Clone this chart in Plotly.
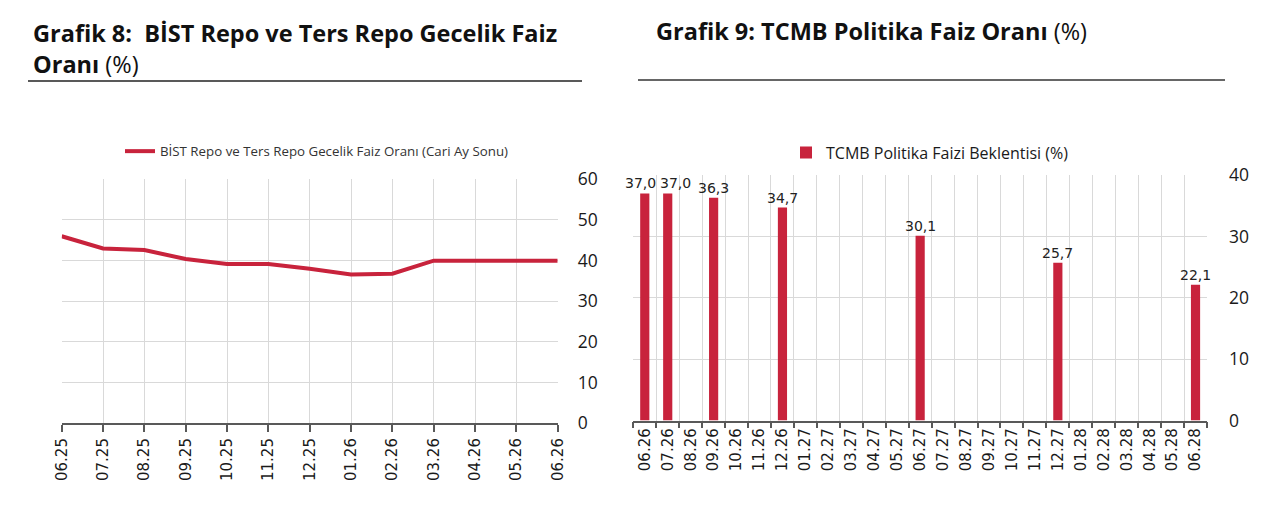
import plotly.graph_objects as go

# ---- Data ----
left_months = ["06.25", "07.25", "08.25", "09.25", "10.25", "11.25", "12.25",
               "01.26", "02.26", "03.26", "04.26", "05.26", "06.26"]
left_rates = [46.0, 43.0, 42.6, 40.4, 39.2, 39.2, 38.0, 36.6, 36.8, 40.0, 40.0, 40.0, 40.0]

right_months = ["06.26", "07.26", "08.26", "09.26", "10.26", "11.26", "12.26",
                "01.27", "02.27", "03.27", "04.27", "05.27", "06.27", "07.27",
                "08.27", "09.27", "10.27", "11.27", "12.27", "01.28", "02.28",
                "03.28", "04.28", "05.28", "06.28"]
right_rates = [37.0, 37.0, None, 36.3, None, None, 34.7, None, None, None, None, None,
               30.1, None, None, None, None, None, 25.7, None, None, None, None, None, 22.1]

left_ticks = [0, 10, 20, 30, 40, 50, 60]
right_ticks = [0, 10, 20, 30, 40]

RED = "#C8233C"
GRID = "#D9D9D9"
AXIS = "#595959"
W, H = 1280, 512


def px_x(p):
    return p / W


def px_y(p):
    return 1 - p / H


fig = go.Figure()

fig.add_trace(go.Scatter(
    x=left_months, y=left_rates, mode="lines",
    line=dict(color=RED, width=4),
    name="BİST Repo ve Ters Repo Gecelik Faiz Oranı (Cari Ay Sonu)",
    xaxis="x", yaxis="y", legend="legend", showlegend=True,
))

fig.add_trace(go.Bar(
    x=right_months, y=right_rates, marker=dict(color=RED, line=dict(width=0)),
    name="TCMB Politika Faizi Beklentisi (%)",
    xaxis="x2", yaxis="y2", legend="legend2", showlegend=True,
))

tick_font_x = dict(family="DejaVu Sans", size=15, color="#1a1a1a")
tick_font_y = dict(family="Open Sans", size=17.5, color="#1a1a1a")
title_font = dict(family="Open Sans", size=23.5, color="#111111")

# data labels above the bars (placed at the bar's category index and value,
# nudged apart where neighbouring labels would collide, as the original does)
label_annotations = []
prev_idx = None
for i, v in enumerate(right_rates):
    if v is None:
        continue
    shift = 0
    nxt = next((j for j in range(i + 1, len(right_rates)) if right_rates[j] is not None), None)
    if nxt is not None and nxt - i == 1:
        shift = -4
    if prev_idx is not None and i - prev_idx == 1:
        shift = 8
    label_annotations.append(dict(
        text=f"{v:.1f}".replace(".", ","), x=i, y=v, xref="x2", yref="y2",
        xanchor="center", yanchor="bottom", showarrow=False, xshift=shift, yshift=0,
        font=dict(family="DejaVu Sans", size=14, color="#222222"),
    ))
    prev_idx = i

fig.update_layout(
    width=W, height=H,
    margin=dict(l=0, r=0, t=0, b=0, autoexpand=False),
    paper_bgcolor="white", plot_bgcolor="white",
    bargap=0.6,
    xaxis=dict(
        domain=[px_x(61.7), px_x(557.7)], anchor="y", type="category",
        categoryorder="array", categoryarray=left_months,
        range=[0, len(left_months) - 1],
        showgrid=True, gridcolor=GRID, gridwidth=1,
        showline=True, linecolor=AXIS, linewidth=1.5,
        ticks="outside", ticklen=7, tickcolor=AXIS, tickwidth=1.5,
        tickangle=-90, tickfont=tick_font_x, zeroline=False,
    ),
    yaxis=dict(
        domain=[px_y(423.3), px_y(179.3)], anchor="x", side="right",
        range=[0, 60], tickvals=left_ticks,
        showgrid=True, gridcolor=GRID, gridwidth=1,
        showline=False, zeroline=False, ticks="",
        ticklabelstandoff=19, tickfont=tick_font_y,
    ),
    xaxis2=dict(
        domain=[px_x(633.3), px_x(1207)], anchor="y2", type="category",
        categoryorder="array", categoryarray=right_months,
        range=[-0.5, len(right_months) - 0.5],
        tickson="boundaries",
        showgrid=True, gridcolor=GRID, gridwidth=1,
        showline=True, linecolor=AXIS, linewidth=1.5,
        ticks="outside", ticklen=6, tickcolor=AXIS, tickwidth=1.5,
        tickangle=-90, tickfont=tick_font_x, zeroline=False,
    ),
    yaxis2=dict(
        domain=[px_y(420.5), px_y(175)], anchor="x2", side="right",
        range=[0, 40], tickvals=right_ticks,
        showgrid=True, gridcolor=GRID, gridwidth=1,
        showline=False, zeroline=False, ticks="",
        ticklabelstandoff=21, tickfont=tick_font_y,
    ),
    legend=dict(
        x=px_x(120), y=px_y(151.5), xanchor="left", yanchor="middle",
        orientation="h", bgcolor="rgba(0,0,0,0)",
        font=dict(family="Open Sans", size=13.3, color="#333333"),
        itemwidth=30,
    ),
    legend2=dict(
        x=px_x(786), y=px_y(152.5), xanchor="left", yanchor="middle",
        orientation="h", bgcolor="rgba(0,0,0,0)",
        font=dict(family="Open Sans", size=16, color="#1a1a1a"),
        itemwidth=30,
    ),
    annotations=[
        dict(
            text="<b>Grafik 8:\u00a0\u00a0BİST Repo ve Ters Repo Gecelik Faiz<br>Oranı</b> (%)",
            x=px_x(31), y=px_y(48.5), xref="paper", yref="paper",
            xanchor="left", yanchor="middle", align="left", showarrow=False,
            font=title_font,
        ),
        dict(
            text="<b>Grafik 9: TCMB Politika Faiz Oranı</b> (%)",
            x=px_x(654), y=px_y(31), xref="paper", yref="paper",
            xanchor="left", yanchor="middle", align="left", showarrow=False,
            font=title_font,
        ),
    ] + label_annotations,
    shapes=[
        dict(type="line", xref="paper", yref="paper",
             x0=px_x(28), x1=px_x(582), y0=px_y(81), y1=px_y(81),
             line=dict(color="#222222", width=1.5)),
        dict(type="line", xref="paper", yref="paper",
             x0=px_x(638), x1=px_x(1225), y0=px_y(80), y1=px_y(80),
             line=dict(color="#666666", width=2)),
    ],
)

fig.write_html(
    "out.html",
    post_script="document.body.style.margin='0';document.body.style.padding='0';"
                "document.body.style.overflow='hidden';",
)
